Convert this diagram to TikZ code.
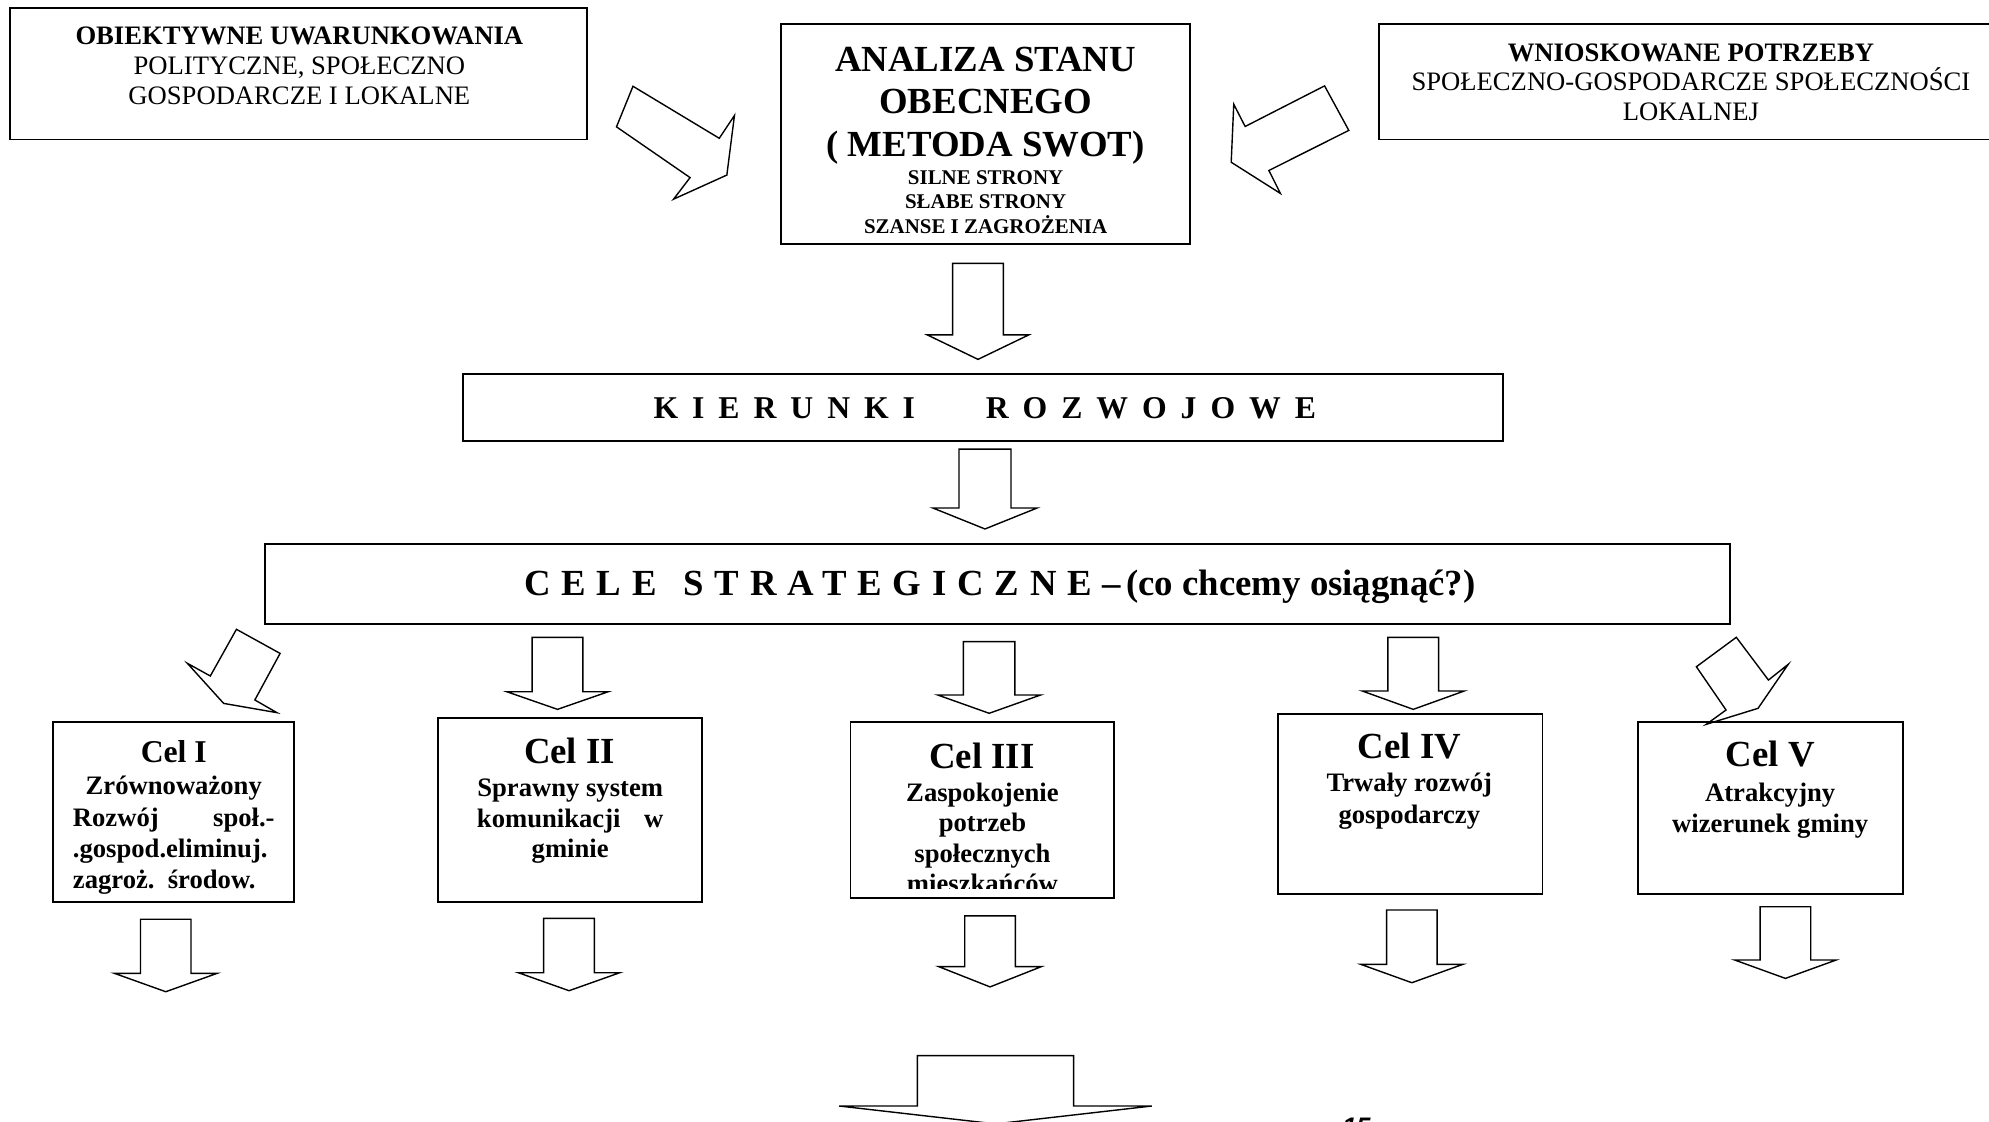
\documentclass[tikz,border=0pt]{standalone}
\usepackage{fontspec}
\setmainfont{Liberation Serif}
\newfontfamily\pagenumfont{Liberation Sans}
\newcommand\fsz[2]{\fontsize{#1}{#2}\selectfont}
\newcommand\strutH[1]{\rule{0pt}{#1pt}}
\newcommand\spaced[2]{{\addfontfeature{LetterSpace=#1}#2}}
% straight block arrow pointing down: centre x, top y, head y, tip y, half shaft, half head
\newcommand\blockdown[6]{%
  \draw[blockarrow] (#1-#5,#2) -- (#1+#5,#2) -- (#1+#5,#3) -- (#1+#6,#3)
    -- (#1,#4) -- (#1-#6,#3) -- (#1-#5,#3) -- cycle;}
\begin{document}
\begin{tikzpicture}[x=1pt,y=-1pt,
  box/.style={draw, line width=1.5pt, inner sep=0pt},
  txt/.style={inner sep=0pt, align=center},
  blockarrow/.style={draw, line width=1.1pt, line join=miter, fill=white}]
\useasboundingbox (0,0) rectangle (1568,884);

% ---------- top row ----------
\node[box, minimum width=455pt, minimum height=104pt] (uwar) at (235.5,58) {};
\node[txt, anchor=north, font=\fsz{21}{23.5}] (uwartxt) at (236,16)
  {\strutH{19}\textbf{OBIEKTYWNE UWARUNKOWANIA}\\POLITYCZNE, SPOŁECZNO\\GOSPODARCZE I LOKALNE};

\node[box, minimum width=322pt, minimum height=173pt] (swot) at (777,105.5) {};
\node[txt, anchor=north, font=\fsz{29}{33.5}\bfseries] (swottitle) at (777,30)
  {\strutH{26}ANALIZA STANU\\OBECNEGO\\( METODA SWOT)};
\node[txt, anchor=north, font=\fsz{16.5}{19}\bfseries] (swotlist) at (777,130.5)
  {\strutH{15}SILNE STRONY\\SŁABE STRONY\\SZANSE I ZAGROŻENIA};

\node[box, minimum width=488pt, minimum height=91pt] (potrz) at (1331,64.5) {};
\node[txt, anchor=north, font=\fsz{21}{23.5}] (potrztxt) at (1333,29)
  {\strutH{19}\textbf{WNIOSKOWANE POTRZEBY}\\SPOŁECZNO-GOSPODARCZE SPOŁECZNOŚCI\\LOKALNEJ};

% arrows into the analysis box
\draw[blockarrow] (499,68) -- (567,109) -- (579,91) -- (573,138) -- (531,157)
  -- (544,140) -- (486,100) -- cycle;
\draw[blockarrow] (1044.2,67.7) -- (1063.3,102.8) -- (1000.3,134.4) -- (1009.4,152.5)
  -- (970.6,127.9) -- (972.6,82.2) -- (981.6,99.7) -- cycle;

% ---------- directions ----------
\blockdown{771}{207.6}{264}{283.3}{20}{40}
\node[box, minimum width=820pt, minimum height=53pt] (kier) at (775,321.5) {};
\node[txt, anchor=base west, font=\fsz{25}{28}\bfseries] (kiertxt) at (515,329.8)
  {\spaced{44}{KIERUNKI}\hspace{55.8pt}\spaced{44}{ROZWOJOWE}};

\blockdown{776.5}{354}{400.5}{417}{20.5}{41}
\node[box, minimum width=1155pt, minimum height=63pt] (cele) at (786.5,460.5) {};
\node[txt, anchor=base west, font=\fsz{29}{32}\bfseries] (celetxt) at (413,469.5)
  {\spaced{29.3}{CELE}\hspace{21.4pt}\spaced{29.3}{STRATEGICZNE}\hspace{8pt}–\hspace{4.5pt}(co chcemy osiągnąć?)};

% ---------- strategic goals ----------
% arrows from the goals bar
\draw[blockarrow] (186.4,496.1) -- (220.8,515.1) -- (200.9,551.8) -- (218.3,561.8)
  -- (176.3,554.5) -- (147.7,522.9) -- (165.8,532.9) -- cycle;
\blockdown{439.5}{502.4}{545.3}{559.2}{20}{40}
\blockdown{779.8}{505.8}{547.9}{562.3}{20.3}{40.5}
\blockdown{1114.1}{502.4}{544.7}{559.2}{20}{40.3}
\draw[blockarrow] (1368.8,502.4) -- (1394.1,536.1) -- (1409.7,523.7) -- (1385.9,558.4)
  -- (1345.1,571) -- (1360.7,559.7) -- (1337.3,525.6) -- cycle;

% goal I
\node[box, minimum width=190pt, minimum height=142pt] (cel1) at (137,640) {};
\node[txt, anchor=base, font=\fsz{25}{28}\bfseries] (cel1t) at (137,601) {Cel I};
\node[txt, anchor=north, font=\fsz{21}{24.5}\bfseries] (cel1b) at (137,609.5)
  {\strutH{17}Zrównoważony\\
   \hbox to 159pt{Rozwój\hfill społ.-}\\
   \hbox to 159pt{.gospod.eliminuj.\hfill}\\
   \hbox to 159pt{zagroż.\ \ środow.\hfill}};

% goal II
\node[box, minimum width=208pt, minimum height=145pt] (cel2) at (449.5,638.5) {};
\node[txt, anchor=base, font=\fsz{29}{32}\bfseries] (cel2t) at (449,601.6) {Cel II};
\node[txt, anchor=north, font=\fsz{21}{24}\bfseries] (cel2b) at (449.5,611)
  {\strutH{17}Sprawny system\\ \hbox to 147pt{komunikacji\hfill w}\\gminie};

% goal III (last line cut by the frame)
\node[box, minimum width=208pt, minimum height=139pt] (cel3) at (774.5,638.5) {};
\node[txt, anchor=base, font=\fsz{29}{32}\bfseries] (cel3t) at (774,606) {Cel III};
\begin{scope}
  \clip (671.5,570) rectangle (877.5,700.5);
  \node[txt, anchor=north, font=\fsz{21}{24}\bfseries] (cel3b) at (774.5,614.5)
    {\strutH{17}Zaspokojenie\\potrzeb\\społecznych\\mieszkańców};
\end{scope}

% goal IV
\node[box, minimum width=208.5pt, minimum height=142pt] (cel4) at (1111.75,634) {};
\node[txt, anchor=base, font=\fsz{29}{32}\bfseries] (cel4t) at (1111,598) {Cel IV};
\node[txt, anchor=north, font=\fsz{21}{25}\bfseries] (cel4b) at (1111,607)
  {\strutH{17}Trwały rozwój\\gospodarczy};

% goal V
\node[box, minimum width=209pt, minimum height=136pt] (cel5) at (1395.5,637) {};
\node[txt, anchor=base, font=\fsz{29}{32}\bfseries] (cel5t) at (1395.5,604.6) {Cel V};
\node[txt, anchor=north, font=\fsz{21}{24}\bfseries] (cel5b) at (1395.5,615)
  {\strutH{17}Atrakcyjny\\wizerunek gminy};

% arrows leaving the goals
\blockdown{130.7}{724.7}{767.3}{781.8}{19.9}{40.5}
\blockdown{448.6}{724}{766.8}{781}{20}{40}
\blockdown{780.5}{722}{762}{778}{20}{40.5}
\blockdown{1113}{717.4}{760.2}{774.7}{19.9}{40.3}
\blockdown{1407.5}{714.8}{756.8}{771.3}{20}{40}

% large arrow at the foot
\blockdown{784.8}{832.2}{871.9}{886}{61.6}{123.2}

% page number
\node[inner sep=0pt, anchor=base west, font=\pagenumfont\bfseries\itshape\fsz{20}{24}] (pagenum)
  at (1058,895.3) {15};
\end{tikzpicture}
\end{document}
